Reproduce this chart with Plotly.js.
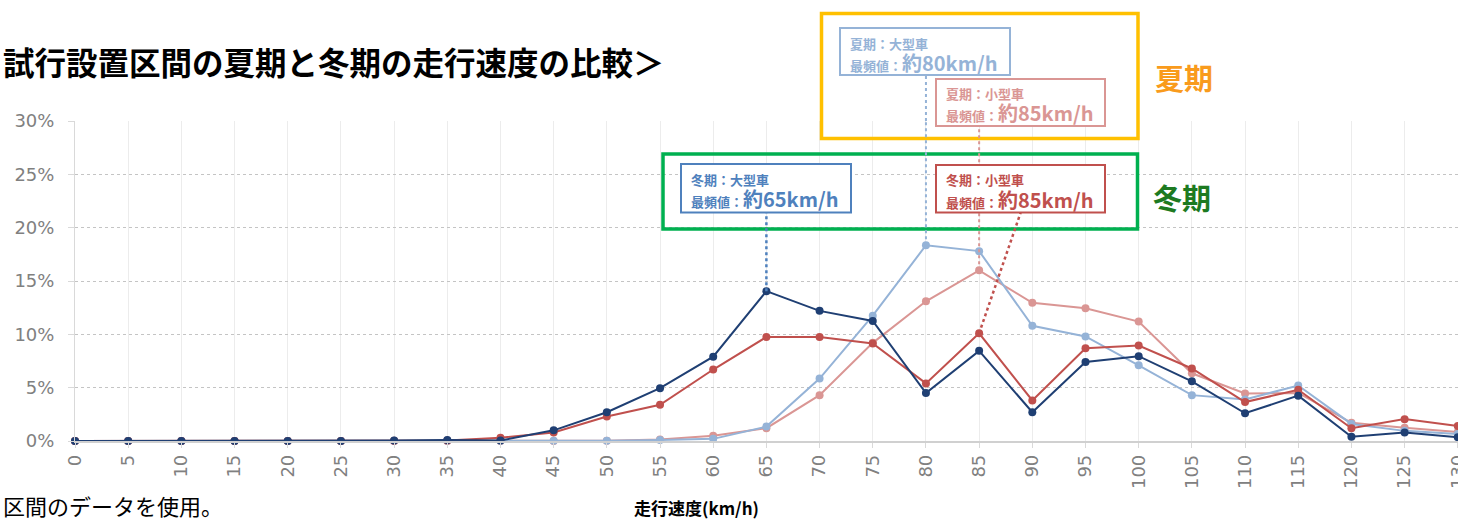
<!DOCTYPE html>
<html>
<head>
<meta charset="utf-8">
<script src="https://cdn.plot.ly/plotly-3.0.1.min.js"></script>
<style>
  html, body { margin: 0; padding: 0; background: #ffffff; }
  #chart { width: 1458px; height: 519px; }
</style>
</head>
<body>
<div id="chart"></div>
<script>
// Speed classes (km/h)
const speeds = [0, 5, 10, 15, 20, 25, 30, 35, 40, 45, 50, 55, 60, 65, 70, 75, 80, 85, 90, 95, 100, 105, 110, 115, 120, 125, 130];

// Share of vehicles in each speed class (%)
const winterLarge = [0, 0, 0, 0, 0, 0, 0.05, 0.1, 0.05, 1.0, 2.7, 4.95, 7.9, 14.05, 12.2, 11.25, 4.5, 8.45, 2.7, 7.4, 7.95, 5.6, 2.6, 4.25, 0.4, 0.8, 0.35];
const winterSmall = [0, 0, 0, 0, 0, 0, 0.02, 0.05, 0.3, 0.8, 2.3, 3.4, 6.7, 9.75, 9.75, 9.15, 5.4, 10.1, 3.8, 8.7, 8.95, 6.8, 3.65, 4.8, 1.2, 2.05, 1.4];
const summerLarge = [0, 0, 0, 0, 0, 0, 0.02, 0.02, 0.02, 0.02, 0.02, 0.1, 0.2, 1.35, 5.85, 11.75, 18.35, 17.8, 10.8, 9.8, 7.1, 4.3, 3.9, 5.2, 1.6, 0.95, 0.65];
const summerSmall = [0, 0, 0, 0, 0, 0, 0, 0, 0, 0, 0.02, 0.15, 0.5, 1.2, 4.3, 9.2, 13.1, 16.0, 12.95, 12.45, 11.2, 6.35, 4.45, 4.5, 1.7, 1.25, 0.85];

// Modes called out in the labels: [speed, share]
const modeSummerLarge = [80, 18.35];
const modeSummerSmall = [85, 16.0];
const modeWinterLarge = [65, 14.05];
const modeWinterSmall = [85, 10.1];

const yTicks = [0, 5, 10, 15, 20, 25, 30];
const yTickText = ['0%', '5%', '10%', '15%', '20%', '25%', '30%'];
const xTickText = ['0', '5', '10', '15', '20', '25', '30', '35', '40', '45', '50', '55', '60', '65', '70', '75', '80', '85', '90', '95', '100', '105', '110', '115', '120', '125', '130'];

const C = {
  winterLarge: '#1F3F73',
  winterSmall: '#C0504D',
  summerLarge: '#95B3D7',
  summerSmall: '#DA9694',
  boxBlue: '#4F81BD',
  boxRed: '#C0504D',
  boxLightBlue: '#95B3D7',
  boxLightRed: '#DA9694'
};

const W = 1458, H = 519;
const M = { l: 75, r: 0, t: 121, b: 78 };
const plotW = W - M.l - M.r, plotH = H - M.t - M.b;
// page pixel -> paper fraction, for decorations placed around the plot
const px = x => (x - M.l) / plotW;
const py = y => (H - M.b - y) / plotH;

const JP = '"Noto Sans CJK JP", "Noto Sans", sans-serif';
const TICK = '"DejaVu Sans", Verdana, sans-serif';

function series(y, color, width, size, name) {
  return {
    x: speeds, y: y, name: name, type: 'scatter', mode: 'lines+markers',
    line: { color: color, width: width },
    marker: { color: color, size: size },
    cliponaxis: false, hoverinfo: 'skip'
  };
}

const traces = [
  series(summerSmall, C.summerSmall, 2, 8, '夏期：小型車'),
  series(summerLarge, C.summerLarge, 2, 8, '夏期：大型車'),
  series(winterSmall, C.winterSmall, 2, 8, '冬期：小型車'),
  series(winterLarge, C.winterLarge, 2, 8, '冬期：大型車')
];

// Label boxes in page pixels
const boxes = [
  { x0: 840, y0: 28, x1: 1010, y1: 75, color: C.boxLightBlue, head: '夏期：大型車', val: '約80km/h', ty1: 43, ty2: 62 },
  { x0: 936, y0: 79, x1: 1105, y1: 126, color: C.boxLightRed, head: '夏期：小型車', val: '約85km/h', ty1: 93, ty2: 112 },
  { x0: 681, y0: 164, x1: 851, y1: 212.5, color: C.boxBlue, head: '冬期：大型車', val: '約65km/h', ty1: 179, ty2: 198.5 },
  { x0: 936, y0: 165, x1: 1105, y1: 212.5, color: C.boxRed, head: '冬期：小型車', val: '約85km/h', ty1: 179, ty2: 199.5 }
];

const shapes = [];
const annotations = [];

// Season frames
shapes.push({ type: 'rect', xref: 'paper', yref: 'paper', x0: px(821.5), x1: px(1138), y0: py(13.5), y1: py(138.5), line: { color: '#FFC000', width: 3.5 } });
shapes.push({ type: 'rect', xref: 'paper', yref: 'paper', x0: px(663), x1: px(1137.5), y0: py(154), y1: py(229), line: { color: '#00B050', width: 3.5 } });

// Leader lines from each mode point to its label
const topY = yTicks[yTicks.length - 1];
shapes.push({ type: 'line', xref: 'x', yref: 'y', x0: modeSummerLarge[0], x1: modeSummerLarge[0], y0: modeSummerLarge[1], y1: topY, line: { color: C.boxLightBlue, width: 2, dash: 'dot' } });
shapes.push({ type: 'line', xref: 'x', yref: 'paper', x0: modeSummerLarge[0], x1: modeSummerLarge[0], y0: 1, y1: py(75), line: { color: C.boxLightBlue, width: 2, dash: 'dot' } });
shapes.push({ type: 'line', xref: 'x', yref: 'y', x0: modeSummerSmall[0], x1: modeSummerSmall[0], y0: modeSummerSmall[1], y1: 29.5, line: { color: C.boxLightRed, width: 2, dash: 'dot' } });
shapes.push({ type: 'line', xref: 'x', yref: 'y', x0: modeWinterLarge[0], x1: modeWinterLarge[0], y0: modeWinterLarge[1], y1: 21.4, line: { color: C.boxBlue, width: 2.5, dash: 'dot' } });
shapes.push({ type: 'line', xref: 'x', yref: 'y', x0: modeWinterSmall[0], x1: 88.9, y0: modeWinterSmall[1], y1: 21.4, line: { color: C.boxRed, width: 2.5, dash: 'dot' } });

boxes.forEach(b => {
  shapes.push({ type: 'rect', xref: 'paper', yref: 'paper', x0: px(b.x0), x1: px(b.x1), y0: py(b.y0), y1: py(b.y1), fillcolor: '#ffffff', line: { color: b.color, width: 2 }, layer: 'above' });
  annotations.push({ xref: 'paper', yref: 'paper', x: px(b.x0 + 8), y: py(b.ty1), xanchor: 'left', yanchor: 'middle', showarrow: false,
    text: '<b>' + b.head + '</b>', font: { family: JP, size: 13, color: b.color } });
  annotations.push({ xref: 'paper', yref: 'paper', x: px(b.x0 + 8), y: py(b.ty2), xanchor: 'left', yanchor: 'middle', showarrow: false,
    text: '<b>最頻値：</b><b><span style="font-size:20px">' + b.val + '</span></b>', font: { family: JP, size: 13, color: b.color } });
});

// Season labels
annotations.push({ xref: 'paper', yref: 'paper', x: px(1184), y: py(77), xanchor: 'center', yanchor: 'middle', showarrow: false,
  text: '<b>夏期</b>', font: { family: JP, size: 29, color: '#F99B1C' } });
annotations.push({ xref: 'paper', yref: 'paper', x: px(1182), y: py(197), xanchor: 'center', yanchor: 'middle', showarrow: false,
  text: '<b>冬期</b>', font: { family: JP, size: 29, color: '#1D7A21' } });

// Heading, note and axis caption
annotations.push({ xref: 'paper', yref: 'paper', x: px(1), y: py(61), xanchor: 'left', yanchor: 'middle', showarrow: false,
  text: '<b>試行設置区間の夏期と冬期の走行速度の比較＞</b>', font: { family: JP, size: 31.5, color: '#000000' } });
annotations.push({ xref: 'paper', yref: 'paper', x: px(1), y: py(505), xanchor: 'left', yanchor: 'middle', showarrow: false,
  text: '区間のデータを使用。', font: { family: JP, size: 22, color: '#000000' } });
annotations.push({ xref: 'paper', yref: 'paper', x: px(696), y: py(507), xanchor: 'center', yanchor: 'middle', showarrow: false,
  text: '<b>走行速度(km/h)</b>', font: { family: JP, size: 17, color: '#000000' } });

const layout = {
  width: W, height: H,
  margin: M,
  paper_bgcolor: '#ffffff', plot_bgcolor: '#ffffff',
  showlegend: false,
  font: { family: TICK, color: '#808080' },
  xaxis: {
    range: [0, 130.02],
    tickmode: 'array',
    tickvals: speeds,
    ticktext: xTickText,
    tickangle: -90,
    ticklabeloverflow: 'allow',
    tickfont: { family: TICK, size: 18, color: '#808080' },
    ticks: 'outside', ticklen: 5, tickcolor: '#d9d9d9',
    showgrid: true, gridcolor: '#ececec', gridwidth: 1,
    showline: true, linecolor: '#d0d0d0', linewidth: 1.5,
    zeroline: false
  },
  yaxis: {
    range: [0, 30],
    tickmode: 'array',
    tickvals: yTicks,
    ticktext: yTickText,
    tickfont: { family: TICK, size: 18, color: '#808080' },
    ticks: 'outside', ticklen: 6, tickcolor: '#d9d9d9',
    ticklabelstandoff: 10,
    showgrid: true, gridcolor: '#c4c4c4', griddash: 'dot', gridwidth: 1,
    showline: true, linecolor: '#d9d9d9', linewidth: 1,
    zeroline: false
  },
  shapes: shapes,
  annotations: annotations
};

Plotly.newPlot('chart', traces, layout, { staticPlot: true, displayModeBar: false });
</script>
</body>
</html>
